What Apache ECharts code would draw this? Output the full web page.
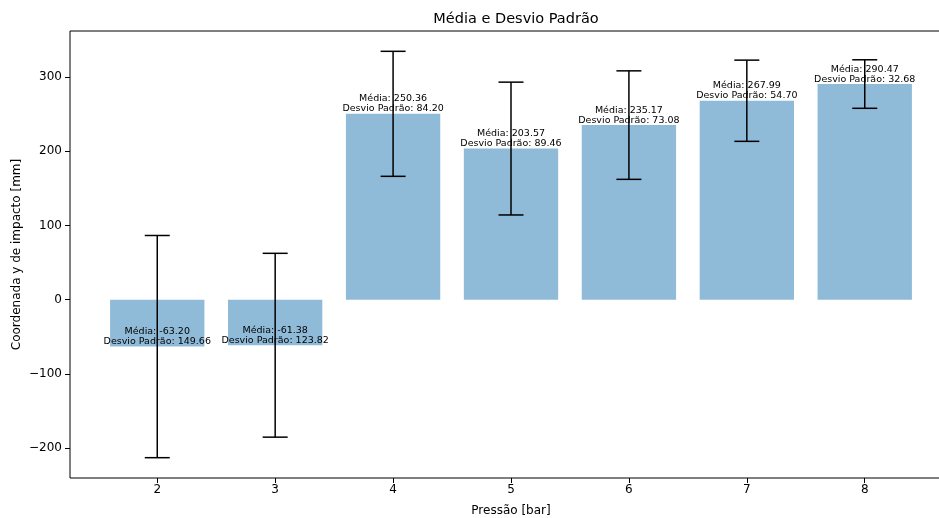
<!DOCTYPE html>
<html>
<head>
<meta charset="utf-8">
<script src="https://cdn.jsdelivr.net/npm/echarts@6/dist/echarts.min.js"></script>
<style>html,body{margin:0;padding:0;background:#fff}#c{width:939px;height:518px}</style>
</head>
<body>
<div id="c"></div>
<script>
const pressures = [2, 3, 4, 5, 6, 7, 8];
const means = [-63.20, -61.38, 250.36, 203.57, 235.17, 267.99, 290.47];
const stds = [149.66, 123.82, 84.20, 89.46, 73.08, 54.70, 32.68];
const yTicks = [-200, -100, 0, 100, 200, 300];
const xTicks = [2, 3, 4, 5, 6, 7, 8];

const FONT = '"DejaVu Sans", sans-serif';
const data = pressures.map((p, i) => [p, means[i], stds[i]]);

const chart = echarts.init(document.getElementById('c'), null, {renderer: 'canvas'});
const fmtMinus = v => String(v).replace('-', '\u2212');

chart.setOption({
  animation: false,
  backgroundColor: '#fff',
  title: {
    text: 'Média e Desvio Padrão',
    left: 511, top: 7, textAlign: 'center',
    textStyle: {fontFamily: FONT, fontSize: 14.5, fontWeight: 'normal', color: '#000'}
  },
  grid: {left: 70, right: -13, top: 31, bottom: 40, show: true, borderColor: '#000', borderWidth: 1,
    backgroundColor: 'transparent', containLabel: false, outerBoundsMode: 'none'},
  xAxis: {
    type: 'value', min: 1.26, max: 8.74,
    name: 'Pressão [bar]', nameLocation: 'middle', nameGap: 27, nameMoveOverlap: false,
    nameTextStyle: {fontFamily: FONT, fontSize: 12, color: '#000'},
    splitLine: {show: false},
    axisLine: {show: false, onZero: false},
    axisTick: {show: true, length: 5, lineStyle: {color: '#000'}, customValues: xTicks},
    axisLabel: {fontFamily: FONT, fontSize: 12, color: '#000', margin: 6, customValues: xTicks}
  },
  yAxis: {
    type: 'value', min: -240.23, max: 361.93,
    name: 'Coordenada y de impacto [mm]', nameLocation: 'middle', nameGap: 47, nameMoveOverlap: false,
    nameTextStyle: {fontFamily: FONT, fontSize: 12, color: '#000'},
    splitLine: {show: false},
    axisLine: {show: false, onZero: false},
    axisTick: {show: true, length: 5, lineStyle: {color: '#000'}, customValues: yTicks},
    axisLabel: {fontFamily: FONT, fontSize: 12, color: '#000', margin: 8, customValues: yTicks, formatter: fmtMinus}
  },
  series: [
    {
      type: 'custom', data: data, z: 2,
      renderItem: (params, api) => {
        const x = api.value(0), m = api.value(1);
        const p1 = api.coord([x - 0.4, Math.max(m, 0)]);
        const p2 = api.coord([x + 0.4, Math.min(m, 0)]);
        return {type: 'rect', shape: {x: p1[0], y: p1[1], width: p2[0] - p1[0], height: p2[1] - p1[1]}, style: {fill: '#8fbbd9'}};
      }
    },
    {
      type: 'custom', data: data, z: 3,
      renderItem: (params, api) => {
        const x = api.value(0), m = api.value(1), s = api.value(2);
        const top = api.coord([x, m + s]);
        const bot = api.coord([x, m - s]);
        const cap = 12.5;
        const ls = {stroke: '#000', lineWidth: 1.5};
        return {type: 'group', children: [
          {type: 'line', shape: {x1: top[0], y1: top[1], x2: bot[0], y2: bot[1]}, style: ls},
          {type: 'line', shape: {x1: top[0] - cap, y1: top[1], x2: top[0] + cap, y2: top[1]}, style: ls},
          {type: 'line', shape: {x1: bot[0] - cap, y1: bot[1], x2: bot[0] + cap, y2: bot[1]}, style: ls}
        ]};
      }
    },
    {
      type: 'custom', data: data, z: 4,
      renderItem: (params, api) => {
        const x = api.value(0), m = api.value(1), s = api.value(2);
        const p = api.coord([x, m]);
        return {type: 'text', x: p[0], y: p[1], style: {
          text: 'Média: ' + m.toFixed(2) + '\nDesvio Padrão: ' + s.toFixed(2),
          align: 'center', verticalAlign: 'bottom',
          font: '9.5px ' + FONT, lineHeight: 10, fill: '#000'
        }};
      }
    }
  ]
});
</script>
</body>
</html>
